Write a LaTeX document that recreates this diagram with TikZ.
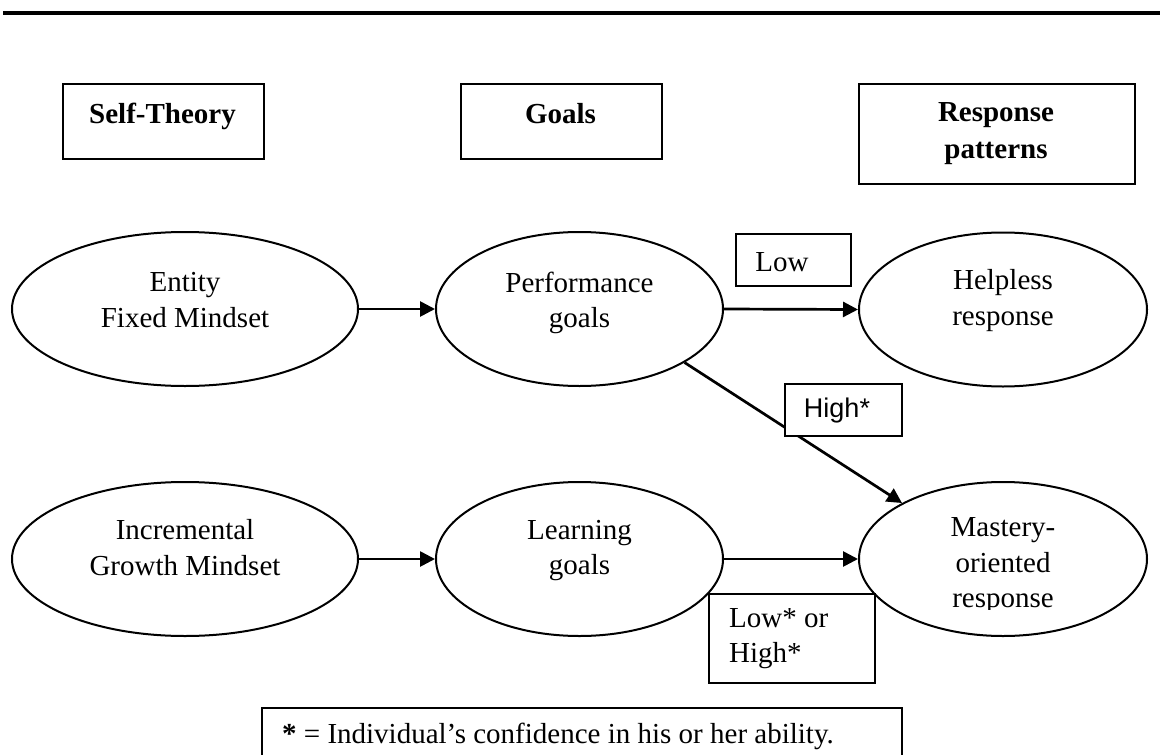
\documentclass[tikz,border=0pt]{standalone}
\usepackage{fontspec}
\setmainfont{Liberation Serif}
\newfontfamily\arialfont{Liberation Sans}
\usetikzlibrary{shapes.geometric,arrows.meta}
\begin{document}
\begin{tikzpicture}[x=1pt,y=-1pt,
  every node/.style={font=\fontsize{29pt}{35.5pt}\selectfont},
  ell/.style={draw, ellipse, line width=2pt, inner sep=0pt, minimum height=154pt},
  hbox/.style={draw, line width=2.4pt, inner sep=0pt, anchor=north west},
  lbox/.style={draw, fill=white, line width=2.4pt, inner sep=0pt, anchor=north west},
  txt/.style={inner sep=0pt, align=center},
  arr/.style={line width=2.7pt, -{Triangle[length=15pt,width=15pt]}}]
\useasboundingbox (0,0) rectangle (1160,755);
% top rule
\draw[line width=4.5pt] (3,13) -- (1160,13);
% header boxes
\node[hbox, minimum width=201pt, minimum height=75pt] (hself) at (62,83) {};
\node[hbox, minimum width=201pt, minimum height=75pt] (hgoal) at (460,83) {};
\node[hbox, minimum width=276pt, minimum height=100pt] (hresp) at (858,83) {};
\node[txt, font=\fontsize{29pt}{36pt}\selectfont\bfseries] (tself) at (162.5,116.5) {Self-Theory};
\node[txt, font=\fontsize{29pt}{36pt}\selectfont\bfseries] (tgoal) at (560.5,113.5) {Goals};
\node[txt, font=\fontsize{29pt}{37pt}\selectfont\bfseries] (tresp) at (996,134) {Response\\patterns};
% ellipses
\node[ell, minimum width=346pt] (ent) at (185,309) {};
\node[ell, minimum width=287pt] (perf) at (579.5,309) {};
\node[ell, minimum width=288pt] (help) at (1003,309.5) {};
\node[ell, minimum width=346pt] (inc) at (185,559) {};
\node[ell, minimum width=287pt] (learn) at (579.5,559) {};
\node[ell, minimum width=288pt] (mast) at (1003,559) {};
\node[txt] (tent) at (185,300) {Entity\\Fixed Mindset};
\node[txt] (tperf) at (579.5,303) {Performance\\goals};
\node[txt] (thelp) at (1003,300.5) {Helpless\\response};
\node[txt] (tinc) at (185,547.5) {Incremental\\Growth Mindset};
\node[txt] (tlearn) at (579.5,550.5) {Learning\\goals};
\begin{scope}
\clip (850,480) rectangle (1160,609);
\node[txt] (tmast) at (1003,566) {Mastery-\\oriented\\response};
\end{scope}
% arrows
\draw[arr] (ent.east) -- (perf.west);
\draw[arr] (perf.east) -- (help.west);
\draw[arr] (inc.east) -- (learn.west);
\draw[arr] (learn.east) -- (mast.west);
\draw[arr] (perf.-27.8) -- (mast.151.9);
% label boxes
\node[lbox, minimum width=115pt, minimum height=52pt] (blow) at (735,233) {};
\node[txt] (tlow) at (782,262) {Low};
\node[lbox, minimum width=117pt, minimum height=52pt] (bhigh) at (784,383) {};
\node[txt, font=\fontsize{27pt}{33pt}\arialfont] (thigh) at (837,411) {High*};
\node[lbox, minimum width=166pt, minimum height=89pt] (blh) at (708,593) {};
\node[txt, align=left, anchor=west] (tlh) at (729,638.5) {Low* or\\High*};
% footnote
\node[lbox, minimum width=640pt, minimum height=70pt] (bfoot) at (261,707) {};
\node[txt, anchor=west] (tfoot) at (282,736.5) {\textbf{*} = Individual’s confidence in his or her ability.};
\end{tikzpicture}
\end{document}
